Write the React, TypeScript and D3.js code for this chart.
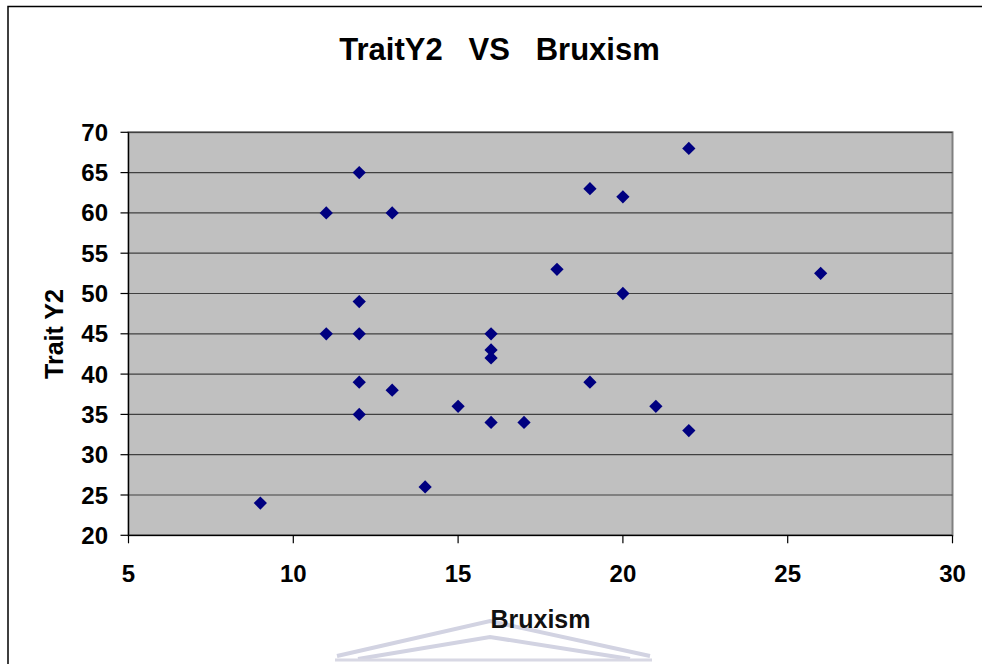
import React from "react";
import * as d3 from "d3";

const bruxism = [9, 11, 11, 12, 12, 12, 12, 12, 13, 13, 14, 15, 16, 16, 16, 16, 17, 18, 19, 19, 20, 20, 21, 22, 22, 26];
const traitY2 = [24, 60, 45, 65, 49, 45, 39, 35, 60, 38, 26, 36, 45, 43, 42, 34, 34, 53, 63, 39, 62, 50, 36, 68, 33, 52.5];
const xTicks = [5, 10, 15, 20, 25, 30];
const yTicks = [20, 25, 30, 35, 40, 45, 50, 55, 60, 65, 70];

const W = 982;
const H = 664;
const left = 128.5;
const right = 952.5;
const top = 132.3;
const bottom = 535.3;

export default function App() {
  const x = d3.scaleLinear().domain([5, 30]).range([left, right]);
  const y = d3.scaleLinear().domain([20, 70]).range([bottom, top]);
  const diamond = d3.symbol().type(d3.symbolDiamond2 ?? d3.symbolDiamond).size(112)();
  const font = "Arial, 'Liberation Sans', sans-serif";
  const roofOuter = d3.line()([[337, 656], [490, 621], [650, 656]]);
  const roofInner = d3.line()([[358, 659], [490, 637], [630, 659]]);

  return (
    <svg width={W} height={H} style={{ position: "absolute", left: 0, top: 0, display: "block" }}>
      <rect x={0} y={0} width={W} height={H} fill="#ffffff" />
      <rect x={8} y={6.5} width={W} height={H} fill="none" stroke="#000" strokeWidth={1.5} />
      <rect x={left} y={top} width={right - left} height={bottom - top} fill="#c0c0c0" stroke="#808080" strokeWidth={2} />
      {yTicks.slice(1).map((t) => (
        <line key={"g" + t} x1={left} x2={right} y1={y(t)} y2={y(t)} stroke="#404040" strokeWidth={1.2} />
      ))}
      <line x1={left} x2={left} y1={top} y2={bottom} stroke="#000" strokeWidth={1.2} />
      <line x1={left} x2={right} y1={bottom} y2={bottom} stroke="#000" strokeWidth={1.2} />
      {yTicks.map((t) => (
        <g key={"y" + t}>
          <line x1={left - 8} x2={left} y1={y(t)} y2={y(t)} stroke="#000" strokeWidth={1.2} />
          <text x={108} y={y(t) + 8.5} textAnchor="end" fontFamily={font} fontWeight="bold" fontSize={24} fill="#000">
            {t}
          </text>
        </g>
      ))}
      {xTicks.map((t) => (
        <g key={"x" + t}>
          <line x1={x(t)} x2={x(t)} y1={bottom} y2={bottom + 8} stroke="#000" strokeWidth={1.2} />
          <text x={x(t)} y={582} textAnchor="middle" fontFamily={font} fontWeight="bold" fontSize={24} fill="#000">
            {t}
          </text>
        </g>
      ))}
      {bruxism.map((bx, i) => (
        <path key={"p" + i} d={diamond as string} transform={`translate(${x(bx)},${y(traitY2[i])})`} fill="#000080" />
      ))}
      <text x={499.5} y={60} textAnchor="middle" fontFamily={font} fontWeight="bold" fontSize={31} fill="#000" style={{ whiteSpace: "pre" }}>
        {"TraitY2   VS   Bruxism"}
      </text>
      <path d={roofOuter as string} fill="none" stroke="#d2d3e2" strokeWidth={4} />
      <path d={roofInner as string} fill="none" stroke="#d2d3e2" strokeWidth={4} />
      <line x1={335} x2={652} y1={660} y2={660} stroke="#d8d8e4" strokeWidth={3} />
      <text x={540.5} y={628} textAnchor="middle" fontFamily={font} fontWeight="bold" fontSize={25} fill="#111">
        Bruxism
      </text>
      <text transform={`translate(63,334) rotate(-90)`} textAnchor="middle" fontFamily={font} fontWeight="bold" fontSize={25} fill="#000">
        Trait Y2
      </text>
    </svg>
  );
}
